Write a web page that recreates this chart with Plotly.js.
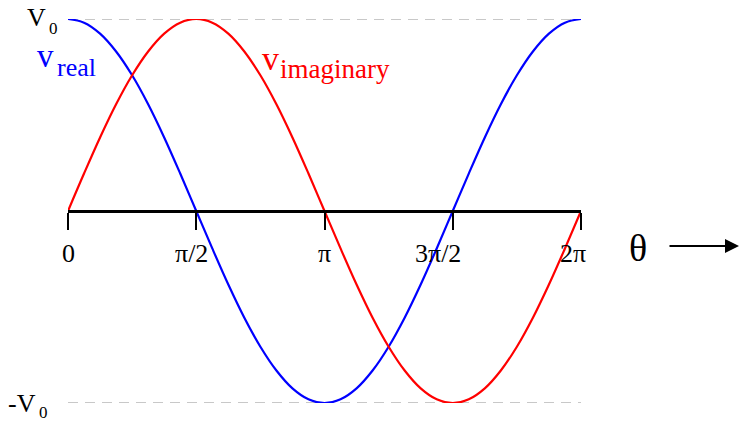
<!DOCTYPE html>
<html>
<head>
<meta charset="utf-8">
<script src="https://cdn.plot.ly/plotly-3.0.1.min.js"></script>
<style>
  html, body { margin: 0; padding: 0; background: #fff; }
  #chart { width: 740px; height: 422px; }
</style>
</head>
<body>
<div id="chart"></div>
<script>
// Phase angle θ in degrees, sampled every 11.25°
const thetaDeg = [0, 11.25, 22.5, 33.75, 45, 56.25, 67.5, 78.75, 90, 101.25, 112.5, 123.75, 135, 146.25, 157.5, 168.75,
  180, 191.25, 202.5, 213.75, 225, 236.25, 247.5, 258.75, 270, 281.25, 292.5, 303.75, 315, 326.25, 337.5, 348.75, 360];

// Real component (relative to V0)
const vReal = [1, 0.981, 0.924, 0.831, 0.707, 0.556, 0.383, 0.195, 0, -0.195, -0.383, -0.556, -0.707, -0.831, -0.924, -0.981,
  -1, -0.981, -0.924, -0.831, -0.707, -0.556, -0.383, -0.195, 0, 0.195, 0.383, 0.556, 0.707, 0.831, 0.924, 0.981, 1];

// Imaginary component (relative to V0)
const vImag = [0, 0.195, 0.383, 0.556, 0.707, 0.831, 0.924, 0.981, 1, 0.981, 0.924, 0.831, 0.707, 0.556, 0.383, 0.195,
  0, -0.195, -0.383, -0.556, -0.707, -0.831, -0.924, -0.981, -1, -0.981, -0.924, -0.831, -0.707, -0.556, -0.383, -0.195, 0];

const tickVals = [0, 90, 180, 270, 360];
const tickText = ['0', 'π/2', 'π', '3π/2', '2π'];
const tickShift = [0, -5, 0, -15, -8];   // small horizontal nudges of the angle labels (px)
const peakLevels = [1, -1];

const serif = 'Liberation Serif';

const traces = [
  { x: thetaDeg, y: vReal, mode: 'lines', line: { color: '#0000ff', width: 2.2, shape: 'spline', smoothing: 1 },
    cliponaxis: false, hoverinfo: 'skip' },
  { x: thetaDeg, y: vImag, mode: 'lines', line: { color: '#ff0000', width: 2.2, shape: 'spline', smoothing: 1 },
    cliponaxis: false, hoverinfo: 'skip' }
];

// dashed guides at ±V0
const shapes = peakLevels.map(v => ({
  type: 'line', xref: 'x', yref: 'y', x0: 0, x1: 360, y0: v, y1: v,
  line: { color: '#c8c8c8', width: 2, dash: '10px,7px' }, layer: 'below'
}));

// plot-area geometry in pixels
const W = 513, H = 384, L = 68, T = 19;
const px = x => (x - L) / W;
const py = y => (T + H - y) / H;

// text label helper: position given in pixels of the figure
function label(text, x, y, xanchor, size, color) {
  return { text: text, xref: 'paper', yref: 'paper', x: px(x), y: py(y), xanchor: xanchor, yanchor: 'middle',
    showarrow: false, borderpad: 0, font: { family: serif, size: size, color: color } };
}

// angle labels under the θ axis
const tickLabels = tickVals.map((v, i) => ({
  text: tickText[i], xref: 'x', yref: 'paper', x: v, y: py(253), xshift: tickShift[i],
  xanchor: 'center', yanchor: 'middle', showarrow: false, borderpad: 0,
  font: { family: serif, size: 26, color: '#000' }
}));

const annotations = tickLabels.concat([
  label('V', 47, 18, 'right', 26, '#000'),
  label('0', 48, 28, 'left', 17, '#000'),
  label('-V', 37, 403, 'right', 26, '#000'),
  label('0', 38, 412, 'left', 17, '#000'),
  label('v', 36, 56, 'left', 33, '#0000ff'),
  label('real', 56, 67, 'left', 26, '#0000ff'),
  label('v', 261, 58, 'left', 34, '#ff0000'),
  label('imaginary', 279, 69, 'left', 27, '#ff0000'),
  label('θ', 638, 248, 'center', 38, '#000'),
  { text: '', xref: 'paper', yref: 'paper', x: px(742), y: py(246), ax: -74, ay: 0,
    showarrow: true, arrowhead: 2, arrowsize: 1.4, arrowwidth: 2, arrowcolor: '#000' }
]);

const layout = {
  width: 740, height: 422,
  margin: { l: L, r: 740 - L - W, t: T, b: 422 - T - H, pad: 0 },
  paper_bgcolor: '#fff', plot_bgcolor: '#fff',
  showlegend: false,
  font: { family: serif },
  xaxis: {
    range: [0, 360], tickvals: tickVals, showticklabels: false,
    showgrid: false, zeroline: false,
    showline: true, linecolor: '#000', linewidth: 2.5,
    anchor: 'free', position: 0.5,
    ticks: 'outside', ticklen: 17, tickwidth: 2, tickcolor: '#000'
  },
  yaxis: { range: [-1, 1], visible: false, showgrid: false, zeroline: false },
  shapes: shapes,
  annotations: annotations
};

Plotly.newPlot('chart', traces, layout, { staticPlot: true, displayModeBar: false });
</script>
</body>
</html>
